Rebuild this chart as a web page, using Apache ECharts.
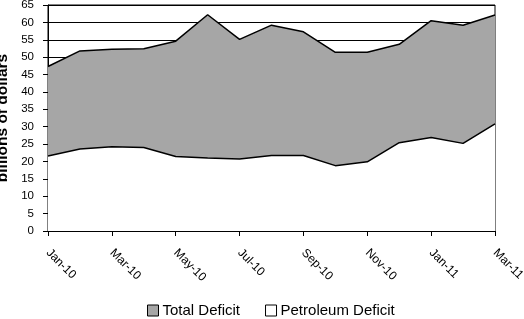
<!DOCTYPE html>
<html>
<head>
<meta charset="utf-8">
<script src="https://cdn.jsdelivr.net/npm/echarts@6/dist/echarts.min.js"></script>
<style>
  html, body { margin: 0; padding: 0; background: #fff; }
  #chart { width: 524px; height: 319px; }
</style>
</head>
<body>
<div id="chart"></div>
<script>
var months = ['Jan-10', 'Feb-10', 'Mar-10', 'Apr-10', 'May-10', 'Jun-10', 'Jul-10', 'Aug-10',
              'Sep-10', 'Oct-10', 'Nov-10', 'Dec-10', 'Jan-11', 'Feb-11', 'Mar-11'];
var totalDeficit = [47.3, 51.8, 52.3, 52.4, 54.6, 62.2, 55.1, 59.2, 57.3, 51.4, 51.4, 53.7, 60.5, 59.2, 62.1];
var petroleumDeficit = [21.6, 23.6, 24.2, 24.0, 21.4, 21.0, 20.7, 21.7, 21.7, 18.8, 19.9, 25.4, 26.9, 25.2, 30.8];

var myChart = echarts.init(document.getElementById('chart'));
var font = 'Liberation Sans, Arial, sans-serif';
var option = {
    animation: false,
    backgroundColor: '#fff',
    textStyle: { fontFamily: font },
    grid: {
        left: 48, right: 29, top: 5, bottom: 88,
        outerBoundsMode: 'none',
        containLabel: false,
        show: true, borderColor: '#000', borderWidth: 1
    },
    legend: {
        top: 303,
        left: 147,
        padding: 0,
        itemWidth: 11,
        itemHeight: 11,
        itemGap: 25,
        icon: 'rect',
        textStyle: { color: '#000', fontSize: 15, fontFamily: font, padding: [0, 0, 0, -1] },
        data: [
            { name: 'Total Deficit', itemStyle: { color: '#a6a6a6', borderColor: '#000', borderWidth: 1 } },
            { name: 'Petroleum Deficit', itemStyle: { color: '#fff', borderColor: '#000', borderWidth: 1 } }
        ]
    },
    xAxis: {
        type: 'category',
        boundaryGap: false,
        data: months,
        axisLine: { lineStyle: { color: '#000', width: 1 } },
        axisTick: { interval: 1, length: 5, lineStyle: { color: '#000' } },
        axisLabel: {
            interval: 1,
            rotate: -45,
            color: '#000',
            fontSize: 12,
            margin: 20,
            fontFamily: font
        }
    },
    yAxis: {
        type: 'value',
        min: 0,
        max: 65,
        interval: 5,
        name: 'billions of dollars',
        nameLocation: 'middle',
        nameGap: 31,
        nameTextStyle: { color: '#000', fontSize: 15.5, fontWeight: 'bold', fontFamily: font },
        axisLine: { show: true, lineStyle: { color: '#000', width: 1 } },
        axisTick: { show: true, length: 5, lineStyle: { color: '#000' } },
        axisLabel: { color: '#000', fontSize: 11.5, margin: 14, fontFamily: font },
        splitLine: { show: true, lineStyle: { color: '#000', width: 1 } }
    },
    series: [
        {
            name: 'Total Deficit',
            type: 'line',
            data: totalDeficit,
            symbol: 'none',
            lineStyle: { color: '#000', width: 1.5 },
            itemStyle: { color: '#a6a6a6' },
            areaStyle: { color: '#a6a6a6', opacity: 1 },
            z: 2
        },
        {
            name: 'Petroleum Deficit',
            type: 'line',
            data: petroleumDeficit,
            symbol: 'none',
            lineStyle: { color: '#000', width: 1.5 },
            itemStyle: { color: '#fff' },
            areaStyle: { color: '#fff', opacity: 1 },
            z: 3
        }
    ]
};
myChart.setOption(option);
</script>
</body>
</html>
